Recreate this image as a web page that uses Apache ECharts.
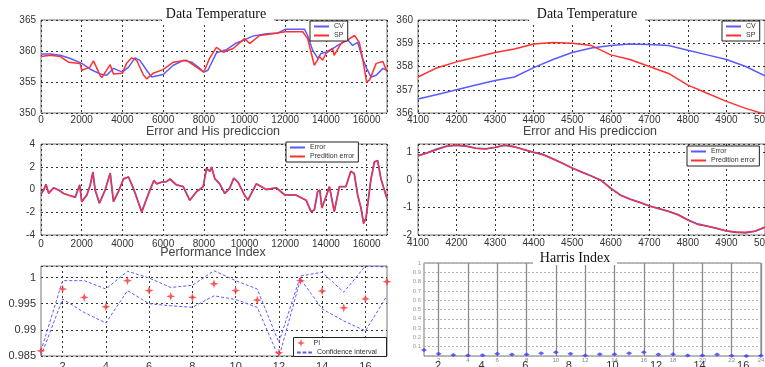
<!DOCTYPE html>
<html>
<head>
<meta charset="utf-8">
<script src="https://cdn.jsdelivr.net/npm/echarts@6/dist/echarts.min.js"></script>
<style>
html, body { margin: 0; padding: 0; background: #fff; }
#container { width: 765px; height: 367px; }
</style>
</head>
<body>
<div id="container"></div>
<script>
// top left: CV / SP over the whole run
var cvLeftX = [0,460,950,1440,2000,2400,2900,3230,3560,4000,4300,4620,4860,5190,5440,6000,6500,7000,7400,7800,8000,8200,8620,9100,9600,10000,10400,11070,11640,12000,12380,12950,13100,13350,13600,13760,14000,14330,14820,15070,15310,15560,15800,16000,16220,16470,16800,17000];
var cvLeftY = [359.5,359.5,359.3,358.8,358.0,357.1,356.3,356.1,357.2,356.6,357.4,358.9,358.5,356.9,355.8,356.2,357.7,358.5,358.2,357.2,356.6,356.9,359.7,360.2,361.3,361.8,362.4,362.8,362.9,363.5,363.5,363.5,362.5,360.1,358.8,359.6,359.8,360.4,361.4,361.8,360.9,361.4,358.8,357.2,355.8,356.1,357.2,356.9];
var spLeftX = [0,450,950,1350,1920,2000,2400,2580,2900,2990,3400,3560,4000,4200,4450,4700,5020,5190,5510,6000,6500,7150,7640,8000,8280,8620,8950,9440,10000,10250,10740,11390,12000,12860,13100,13430,13680,13840,14000,14330,14400,14740,15070,15400,15640,15800,16000,16140,16470,16800,17000];
var spLeftY = [359.1,359.3,359.1,358.2,358.0,356.9,357.4,358.4,356.1,355.7,357.8,356.3,356.4,358.0,358.9,358.5,356.2,355.5,356.4,357.0,358.2,358.5,357.4,356.6,358.8,360.6,359.8,360.4,362.0,361.2,362.5,362.8,363.1,363.1,362.0,357.7,359.1,358.5,359.6,360.4,359.3,361.2,361.8,362.5,361.4,358.8,355.0,355.3,358.0,358.3,356.6];

// top right: zoom 4100..5000
var rightX = [4100,4150,4200,4250,4300,4350,4400,4450,4500,4550,4600,4650,4700,4750,4800,4850,4900,4950,5000];
var cvRightY = [356.6,356.8,357.0,357.2,357.4,357.55,357.95,358.3,358.6,358.8,358.9,358.97,358.95,358.9,358.7,358.5,358.3,358.0,357.6];
var spRightY = [357.55,357.95,358.2,358.4,358.6,358.75,358.97,359.03,359.0,358.9,358.5,358.3,358.0,357.7,357.2,356.85,356.5,356.2,355.95];

// middle left: error and its prediction
var errX = [0,130,245,375,620,865,1110,1440,1680,1900,2000,2250,2420,2550,2660,2870,3150,3400,3560,3800,4050,4300,4540,4950,5350,5550,5680,5930,6170,6340,6660,6990,7310,7640,7970,8130,8300,8380,8540,8780,9030,9270,9470,9680,10000,10170,10580,11070,11560,11970,12540,13030,13270,13430,13590,13700,13800,14000,14170,14410,14660,14980,15220,15390,15560,15720,15850,15970,16050,16200,16380,16540,16700,17000];
var errY = [-0.4,-0.05,0.45,-0.3,0.15,-0.05,-0.35,-0.55,-0.7,0.4,-1.05,-0.5,0.4,1.5,-0.05,-1.2,-0.05,1.45,-1.05,-0.2,0.9,1.1,0.1,-1.95,-0.05,0.8,0.5,0.65,0.7,0.9,0.4,0.25,-0.95,-0.2,0.25,1.85,1.6,1.95,0.95,0.5,-0.35,0.1,1.0,0.65,-0.5,-0.9,0.5,0.0,0.15,-0.45,-0.5,-0.95,-1.95,-1.8,-0.2,-0.05,-1.6,-0.65,0.25,-1.95,0.25,0.25,1.6,1.4,-0.5,-1.6,-2.95,-2.5,-2.4,0.8,2.4,2.55,0.95,-0.8];
var predY = [-0.35,-0.05,0.45,-0.35,0.15,-0.05,-0.35,-0.55,-0.65,0.4,-1.1,-0.5,0.4,1.55,-0.05,-1.2,-0.05,1.4,-1.1,-0.2,0.95,1.1,0.1,-2.0,-0.05,0.8,0.5,0.65,0.7,0.95,0.4,0.25,-0.95,-0.2,0.25,1.85,1.6,2.0,0.95,0.5,-0.35,0.1,1.0,0.65,-0.5,-0.95,0.5,0.0,0.15,-0.5,-0.5,-0.95,-1.95,-1.8,-0.2,-0.05,-1.65,-0.65,0.25,-1.95,0.25,0.25,1.6,1.4,-0.5,-1.65,-3.0,-2.5,-2.35,0.75,2.45,2.55,0.95,-0.8];

// middle right: zoom 4100..5000
var errRightX = [4100,4125,4150,4175,4200,4225,4250,4275,4300,4325,4350,4375,4400,4425,4450,4475,4500,4525,4550,4575,4600,4625,4650,4675,4700,4725,4750,4775,4800,4825,4850,4875,4900,4925,4950,4975,5000];
var errRightY = [0.88,0.99,1.12,1.22,1.25,1.22,1.15,1.12,1.18,1.25,1.2,1.1,1.0,0.92,0.76,0.6,0.43,0.28,0.14,-0.02,-0.3,-0.55,-0.7,-0.82,-0.94,-1.04,-1.14,-1.27,-1.45,-1.6,-1.68,-1.76,-1.85,-1.9,-1.92,-1.86,-1.72];
var predRightY = [0.86,0.98,1.1,1.22,1.26,1.22,1.14,1.12,1.18,1.26,1.2,1.1,1.0,0.9,0.76,0.6,0.42,0.28,0.13,-0.02,-0.32,-0.56,-0.7,-0.82,-0.95,-1.04,-1.14,-1.26,-1.46,-1.62,-1.68,-1.76,-1.86,-1.9,-1.9,-1.86,-1.7];

// bottom left: performance index
var piCats = ['1','2','3','4','5','6','7','8','9','10','11','12','13','14','15','16','17'];
var piValues = [0.9860,0.9978,0.9962,0.9944,0.9994,0.9975,0.9964,0.9962,0.9988,0.9975,0.9957,0.9856,0.9994,0.9974,0.9942,0.9959,0.9992];
var ciUpper = [0.9860,0.9994,0.9994,0.9978,1.0012,0.9999,0.9981,0.9985,1.0013,0.9994,0.9978,0.9876,1.0003,1.0010,0.9972,1.0022,1.0020];
var ciLower = [0.9850,0.9959,0.9933,0.9913,0.9975,0.9950,0.9946,0.9943,0.9965,0.9958,0.9943,0.9847,0.9997,0.9940,0.9917,0.9898,0.9965];

// bottom right: harris index
var harrisCats = ['1','2','3','4','5','6','7','8','9','10','11','12','13','14','15','16','17','18','19','20','21','22','23','24'];
var harrisValues = [0.065,0.025,0.012,0.005,0.008,0.025,0.015,0.015,0.03,0.04,0.025,0.005,0.02,0.02,0.03,0.04,0.015,0.02,0.005,0.005,0.015,0.003,0.0,0.002];

function pairs(xs, ys) {
	var arr = [];
	for (var i = 0; i < xs.length; ++i)
		arr[i] = [xs[i], ys[i]];
	return arr;
}

var myChart = echarts.init(document.getElementById('container'));
var blue = '#5a5aff';
var red = '#ff3030';
var star = 'path://M0,-10 L2.5,-2.5 L10,0 L2.5,2.5 L0,10 L-2.5,2.5 L-10,0 L-2.5,-2.5 Z';
var dashIcon = 'path://M0,0h4v2h-4z M6,0h4v2h-4z M12,0h4v2h-4z';
var dotted = { type: [2, 3], color: '#333', width: 1 };
var lbl = { color: '#333', fontSize: 10, fontFamily: 'Liberation Sans' };
// outerBoundsMode none: keep the grids where they are, let labels run off the page
var frame = { show: true, borderColor: '#777', borderWidth: 1, containLabel: false, outerBoundsMode: 'none' };

function valueAxis(gi, min, max, interval, fmt, margin, size) {
	return {
		gridIndex: gi, type: 'value', min: min, max: max, interval: interval,
		axisLine: { show: false }, axisTick: { show: false },
		axisLabel: Object.assign({}, lbl, { formatter: fmt, margin: margin, fontSize: size || 10 }),
		splitLine: { show: true, lineStyle: dotted }
	};
}
function evenIdx(index) { return index % 2 === 1; }
function keep(step) {
	return function(v) {
		var r = Math.round(v / step);
		return Math.abs(v - r * step) < step * 1e-6 ? String(v) : '';
	};
}
function piFmt(v) {
	var r = Math.round(v * 1000);
	if (r % 5 !== 0) return '';
	return String(+(r / 1000).toFixed(3));
}
function legendAt(left, top, names, boxed, h) {
	return {
		left: left, top: top, data: names, orient: 'vertical',
		backgroundColor: boxed ? '#fff' : 'transparent',
		borderColor: '#222', borderWidth: boxed ? 1 : 0,
		padding: [2, 4, 2, 4], itemGap: 2, itemWidth: 15, itemHeight: h || 2,
		icon: h ? undefined : 'rect',
		textStyle: { fontSize: 7, color: '#333', fontFamily: 'Liberation Sans' }
	};
}
function titleText(x, y, text, serif) {
	return {
		type: 'text', x: x, y: y, z: 101,
		style: {
			text: text, fill: serif ? '#111' : '#444',
			font: serif ? '14px "Liberation Serif"' : '12.5px "Liberation Sans"',
			textAlign: 'center', textVerticalAlign: 'middle'
		}
	};
}
function whiteBox(x, y, w, h, z, stroke) {
	return { type: 'rect', z: z || 100, shape: { x: x, y: y, width: w, height: h }, style: { fill: '#fff', stroke: stroke || null, lineWidth: 1 } };
}

option = {
	animation: false,
	backgroundColor: '#fff',
	grid: [
		Object.assign({ left: 41, top: 20, width: 346, height: 93 }, frame),
		Object.assign({ left: 418, top: 20, width: 347, height: 93 }, frame),
		Object.assign({ left: 41, top: 144, width: 346, height: 91 }, frame),
		Object.assign({ left: 418, top: 144, width: 347, height: 91 }, frame),
		Object.assign({ left: 41, top: 266, width: 346, height: 90 }, frame),
		Object.assign({ left: 424, top: 263, width: 337, height: 93 }, frame),
		{ left: 394.5, top: 263, width: 370.5, height: 93, show: false, outerBoundsMode: 'none' }
	],
	xAxis: [
		valueAxis(0, 0, 17000, 2000, keep(2000), 2),
		valueAxis(1, 4100, 5000, 100, keep(100), 2),
		valueAxis(2, 0, 17000, 2000, keep(2000), 4),
		valueAxis(3, 4100, 5000, 100, keep(100), 3),
		{
			gridIndex: 4, type: 'category', data: piCats, boundaryGap: false,
			axisLine: { show: false }, axisTick: { show: false },
			axisLabel: Object.assign({}, lbl, { fontSize: 11, interval: evenIdx, margin: 5 }),
			splitLine: { show: true, interval: evenIdx, lineStyle: dotted }
		},
		{
			gridIndex: 5, type: 'category', data: harrisCats, boundaryGap: false,
			axisLine: { show: false }, axisTick: { show: false },
			axisLabel: { color: '#888', fontSize: 6, interval: evenIdx, margin: 1.5 },
			splitLine: { show: true, interval: evenIdx, lineStyle: { color: '#8a8a8a', width: 1.3 } }
		},
		{
			gridIndex: 6, type: 'value', min: 0, max: 17, interval: 2,
			axisLine: { show: false }, axisTick: { show: false }, splitLine: { show: false },
			axisLabel: Object.assign({}, lbl, { fontSize: 11, margin: 4, formatter: function(v) { return v > 0 && v % 2 === 0 ? v : ''; } })
		}
	],
	yAxis: [
		valueAxis(0, 350, 365, 5, keep(5), 5),
		valueAxis(1, 356, 360, 1, keep(1), 5),
		valueAxis(2, -4, 4, 2, keep(2), 6),
		valueAxis(3, -2, 1.3, 1, keep(1), 6),
		valueAxis(4, 0.985, 1.0022, 0.005, piFmt, 5, 11),
		{
			gridIndex: 5, type: 'value', min: 0, max: 1, interval: 0.1,
			axisLine: { show: false }, axisTick: { show: false },
			axisLabel: { color: '#999', fontSize: 6, margin: 3, formatter: function(v) { return v > 0 ? String(+v.toFixed(1)) : ''; } },
			splitLine: { show: true, lineStyle: { type: [2, 2], color: '#b0b0b0', width: 1 } }
		},
		{ gridIndex: 6, type: 'value', min: 0, max: 1, show: false }
	],
	legend: [
		legendAt(310, 21, ['CV', 'SP'], true),
		legendAt(722, 21, ['CV', 'SP'], true),
		legendAt(286, 142, ['Error', 'Predition error'], true),
		legendAt(687, 146, ['Error', 'Predition error'], true),
		legendAt(293, 337, ['PI'], false, 8),
		legendAt(293, 347, [{ name: 'Confidence interval', icon: dashIcon }], false)
	],
	graphic: [
		whiteBox(162, 4, 112, 18),
		titleText(216, 14, 'Data Temperature', true),
		whiteBox(529, 4, 116, 18),
		titleText(587, 14, 'Data Temperature', true),
		titleText(213, 132, 'Error and His prediccion', false),
		titleText(590, 132, 'Error and His prediccion', false),
		titleText(213, 253, 'Performance Index', false),
		whiteBox(533, 250, 84, 15),
		titleText(575, 258, 'Harris Index', true),
		whiteBox(293.5, 337.5, 93, 19, 3, '#222')
	],
	series: [
		{ name: 'CV', type: 'line', xAxisIndex: 0, yAxisIndex: 0, symbol: 'none', data: pairs(cvLeftX, cvLeftY), lineStyle: { color: blue, width: 1.5 }, itemStyle: { color: blue } },
		{ name: 'SP', type: 'line', xAxisIndex: 0, yAxisIndex: 0, symbol: 'none', data: pairs(spLeftX, spLeftY), lineStyle: { color: red, width: 1.5 }, itemStyle: { color: red } },
		{ name: 'CV', type: 'line', xAxisIndex: 1, yAxisIndex: 1, symbol: 'none', data: pairs(rightX, cvRightY), lineStyle: { color: blue, width: 1.5 }, itemStyle: { color: blue } },
		{ name: 'SP', type: 'line', xAxisIndex: 1, yAxisIndex: 1, symbol: 'none', data: pairs(rightX, spRightY), lineStyle: { color: red, width: 1.5 }, itemStyle: { color: red } },
		{ name: 'Error', type: 'line', xAxisIndex: 2, yAxisIndex: 2, symbol: 'none', data: pairs(errX, errY), lineStyle: { color: blue, width: 1.8 }, itemStyle: { color: blue } },
		{ name: 'Predition error', type: 'line', xAxisIndex: 2, yAxisIndex: 2, symbol: 'none', data: pairs(errX, predY), lineStyle: { color: red, width: 1.3 }, itemStyle: { color: red } },
		{ name: 'Error', type: 'line', xAxisIndex: 3, yAxisIndex: 3, symbol: 'none', data: pairs(errRightX, errRightY), lineStyle: { color: blue, width: 1.8 }, itemStyle: { color: blue } },
		{ name: 'Predition error', type: 'line', xAxisIndex: 3, yAxisIndex: 3, symbol: 'none', data: pairs(errRightX, predRightY), lineStyle: { color: red, width: 1.3 }, itemStyle: { color: red } },
		{ name: 'Confidence interval', type: 'line', xAxisIndex: 4, yAxisIndex: 4, symbol: 'none', data: ciUpper, lineStyle: { color: blue, width: 1, type: [3, 2] }, itemStyle: { color: blue } },
		{ name: 'Confidence interval', type: 'line', xAxisIndex: 4, yAxisIndex: 4, symbol: 'none', data: ciLower, lineStyle: { color: blue, width: 1, type: [3, 2] }, itemStyle: { color: blue } },
		{ name: 'PI', type: 'scatter', xAxisIndex: 4, yAxisIndex: 4, z: 4, symbol: star, symbolSize: 9, data: piValues, itemStyle: { color: red } },
		{ name: 'Harris', type: 'scatter', xAxisIndex: 5, yAxisIndex: 5, symbol: 'diamond', symbolSize: [6, 4], data: harrisValues, itemStyle: { color: '#3a3aff' } }
	]
};
myChart.setOption(option);
</script>
</body>
</html>
